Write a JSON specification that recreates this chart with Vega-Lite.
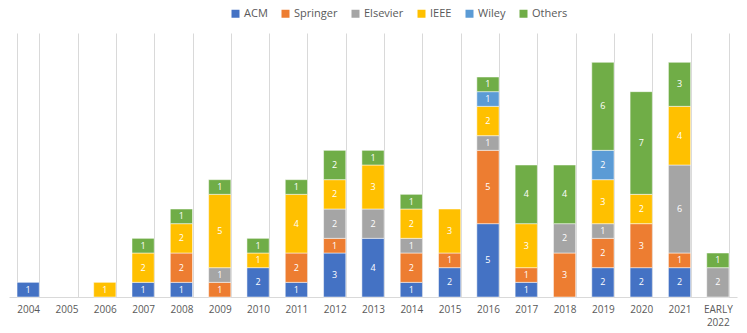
{
  "$schema": "https://vega.github.io/schema/vega-lite/v6.json",
  "width": 728,
  "height": 264,
  "autosize": {"type": "none"},
  "padding": {"left": 9, "top": 33, "right": 10, "bottom": 36},
  "background": "white",
  "config": {"view": {"stroke": null}, "font": "Open Sans"},
  "data": {"values": [
    {"year": "2004", "pub": "ACM", "n": 1},
    {"year": "2006", "pub": "IEEE", "n": 1},
    {"year": "2007", "pub": "ACM", "n": 1},
    {"year": "2007", "pub": "IEEE", "n": 2},
    {"year": "2007", "pub": "Others", "n": 1},
    {"year": "2008", "pub": "ACM", "n": 1},
    {"year": "2008", "pub": "Springer", "n": 2},
    {"year": "2008", "pub": "IEEE", "n": 2},
    {"year": "2008", "pub": "Others", "n": 1},
    {"year": "2009", "pub": "Springer", "n": 1},
    {"year": "2009", "pub": "Elsevier", "n": 1},
    {"year": "2009", "pub": "IEEE", "n": 5},
    {"year": "2009", "pub": "Others", "n": 1},
    {"year": "2010", "pub": "ACM", "n": 2},
    {"year": "2010", "pub": "IEEE", "n": 1},
    {"year": "2010", "pub": "Others", "n": 1},
    {"year": "2011", "pub": "ACM", "n": 1},
    {"year": "2011", "pub": "Springer", "n": 2},
    {"year": "2011", "pub": "IEEE", "n": 4},
    {"year": "2011", "pub": "Others", "n": 1},
    {"year": "2012", "pub": "ACM", "n": 3},
    {"year": "2012", "pub": "Springer", "n": 1},
    {"year": "2012", "pub": "Elsevier", "n": 2},
    {"year": "2012", "pub": "IEEE", "n": 2},
    {"year": "2012", "pub": "Others", "n": 2},
    {"year": "2013", "pub": "ACM", "n": 4},
    {"year": "2013", "pub": "Elsevier", "n": 2},
    {"year": "2013", "pub": "IEEE", "n": 3},
    {"year": "2013", "pub": "Others", "n": 1},
    {"year": "2014", "pub": "ACM", "n": 1},
    {"year": "2014", "pub": "Springer", "n": 2},
    {"year": "2014", "pub": "Elsevier", "n": 1},
    {"year": "2014", "pub": "IEEE", "n": 2},
    {"year": "2014", "pub": "Others", "n": 1},
    {"year": "2015", "pub": "ACM", "n": 2},
    {"year": "2015", "pub": "Springer", "n": 1},
    {"year": "2015", "pub": "IEEE", "n": 3},
    {"year": "2016", "pub": "ACM", "n": 5},
    {"year": "2016", "pub": "Springer", "n": 5},
    {"year": "2016", "pub": "Elsevier", "n": 1},
    {"year": "2016", "pub": "IEEE", "n": 2},
    {"year": "2016", "pub": "Wiley", "n": 1},
    {"year": "2016", "pub": "Others", "n": 1},
    {"year": "2017", "pub": "ACM", "n": 1},
    {"year": "2017", "pub": "Springer", "n": 1},
    {"year": "2017", "pub": "IEEE", "n": 3},
    {"year": "2017", "pub": "Others", "n": 4},
    {"year": "2018", "pub": "Springer", "n": 3},
    {"year": "2018", "pub": "Elsevier", "n": 2},
    {"year": "2018", "pub": "Others", "n": 4},
    {"year": "2019", "pub": "ACM", "n": 2},
    {"year": "2019", "pub": "Springer", "n": 2},
    {"year": "2019", "pub": "Elsevier", "n": 1},
    {"year": "2019", "pub": "IEEE", "n": 3},
    {"year": "2019", "pub": "Wiley", "n": 2},
    {"year": "2019", "pub": "Others", "n": 6},
    {"year": "2020", "pub": "ACM", "n": 2},
    {"year": "2020", "pub": "Springer", "n": 3},
    {"year": "2020", "pub": "IEEE", "n": 2},
    {"year": "2020", "pub": "Others", "n": 7},
    {"year": "2021", "pub": "ACM", "n": 2},
    {"year": "2021", "pub": "Springer", "n": 1},
    {"year": "2021", "pub": "Elsevier", "n": 6},
    {"year": "2021", "pub": "IEEE", "n": 4},
    {"year": "2021", "pub": "Others", "n": 3},
    {"year": "EARLY 2022", "pub": "Elsevier", "n": 2},
    {"year": "EARLY 2022", "pub": "Others", "n": 1}
  ]},
  "transform": [
    {"calculate": "indexof(['ACM','Springer','Elsevier','IEEE','Wiley','Others'], datum.pub)", "as": "ord"},
    {"stack": "n", "groupby": ["year"], "sort": [{"field": "ord", "order": "ascending"}], "as": ["y0", "y1"]},
    {"calculate": "(datum.y0 + datum.y1) / 2", "as": "ymid"}
  ],
  "encoding": {
    "x": {
      "field": "year", "type": "nominal",
      "scale": {"domain": ["2004","2005","2006","2007","2008","2009","2010","2011","2012","2013","2014","2015","2016","2017","2018","2019","2020","2021","EARLY 2022"], "paddingInner": 0.42, "paddingOuter": 0.21},
      "axis": {
        "title": null, "labelAngle": 0, "ticks": false, "grid": true, "tickBand": "extent",
        "gridColor": "#d9d9d9", "gridWidth": 1, "domainColor": "#d9d9d9", "domainWidth": 1,
        "labelColor": "#595959", "labelFontSize": 10, "labelPadding": 7, "labelFont": "Open Sans",
        "labelExpr": "datum.label == 'EARLY 2022' ? ['EARLY', '2022'] : datum.label",
        "labelLineHeight": 13
      }
    }
  },
  "layer": [
    {
      "mark": {"type": "bar", "stroke": "white", "strokeWidth": 0.5},
      "encoding": {
        "y": {"field": "y0", "type": "quantitative", "scale": {"domain": [0, 18], "nice": false}, "axis": null},
        "y2": {"field": "y1"},
        "color": {
          "field": "pub", "type": "nominal",
          "scale": {"domain": ["ACM","Springer","Elsevier","IEEE","Wiley","Others"], "range": ["#4472C4","#ED7D31","#A5A5A5","#FFC000","#5B9BD5","#70AD47"]},
          "legend": {
            "title": null, "orient": "none", "direction": "horizontal", "legendX": 221, "legendY": -25,
            "symbolType": "square", "symbolSize": 64, "symbolStrokeWidth": 0,
            "labelColor": "#595959", "labelFontSize": 11, "labelFont": "Open Sans", "columnPadding": 12, "labelOffset": 3
          }
        }
      }
    },
    {
      "mark": {"type": "text", "color": "white", "fontSize": 9, "baseline": "middle", "align": "center"},
      "encoding": {
        "y": {"field": "ymid", "type": "quantitative"},
        "text": {"field": "n", "type": "quantitative"}
      }
    }
  ]
}
